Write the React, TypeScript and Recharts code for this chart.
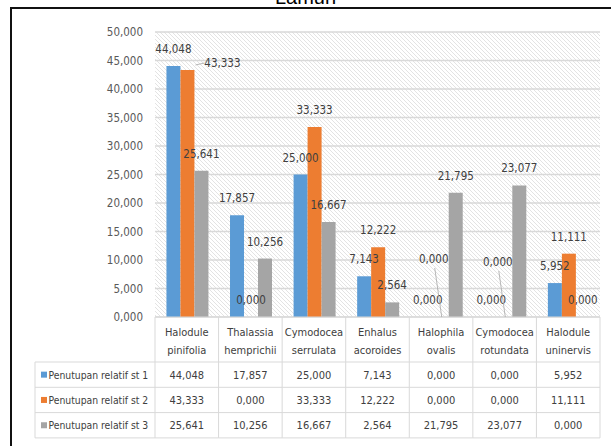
import React from 'react';
import { BarChart, Bar, XAxis, YAxis, CartesianGrid, LabelList } from 'recharts';

const categories = [
  'Halodule pinifolia',
  'Thalassia hemprichii',
  'Cymodocea serrulata',
  'Enhalus acoroides',
  'Halophila ovalis',
  'Cymodocea rotundata',
  'Halodule uninervis',
];
const seriesNames = ['Penutupan relatif st 1', 'Penutupan relatif st 2', 'Penutupan relatif st 3'];
const st1 = [44.048, 17.857, 25.0, 7.143, 0.0, 0.0, 5.952];
const st2 = [43.333, 0.0, 33.333, 12.222, 0.0, 0.0, 11.111];
const st3 = [25.641, 10.256, 16.667, 2.564, 21.795, 23.077, 0.0];
const yTicks = [0, 5, 10, 15, 20, 25, 30, 35, 40, 45, 50];
const colors = ['#5B9BD5', '#ED7D31', '#A5A5A5'];

const W = 611;
const H = 446;
const PLOT_LEFT = 155;
const PLOT_RIGHT = 600;
const PLOT_BOTTOM = 317;
const TABLE_TOP = 362;
const ROW_H = 25.3;
const LEGEND_LEFT = 35;
const FONT = "'DejaVu Sans Condensed', 'DejaVu Sans', sans-serif";
const TEXT = '#404040';
const LINE = '#d9d9d9';

const series = [st1, st2, st3];
const data = categories.map((name, i) => ({ name, s1: st1[i], s2: st2[i], s3: st3[i] }));

const fmt = (v: number) => v.toFixed(3).replace('.', ',');

// manually moved labels (series-index) -> [dx, dy]
const labelShift: Record<string, [number, number]> = {
  '1-0': [35, 10],
  '1-4': [-8, -41],
  '1-5': [-7.5, -38],
};

const makeLabel = (s: number) => (props: any) => {
  const { x, y, width, value, index } = props;
  const cx = x + width / 2;
  const cy = y - 17;
  const shift = labelShift[`${s}-${index}`];
  const lx = cx + (shift ? shift[0] : 0);
  const ly = cy + (shift ? shift[1] : 0);
  return (
    <g>
      {shift && s === 1 && index === 0 && (
        <line x1={lx - 18} y1={ly} x2={x + width + 1} y2={y - 5} stroke="#a6a6a6" strokeWidth={0.8} />
      )}
      {shift && index > 0 && (
        <line x1={lx + 1} y1={ly + 9} x2={cx} y2={y} stroke="#a6a6a6" strokeWidth={0.8} />
      )}
      <text x={lx} y={ly + 4} textAnchor="middle" fontSize={11.5} fontFamily={FONT} fill={TEXT}>
        {fmt(Number(value))}
      </text>
    </g>
  );
};

const TableTick = (props: any) => {
  const { x, payload, index } = props;
  const band = (PLOT_RIGHT - PLOT_LEFT) / categories.length;
  const left = x - band / 2;
  const right = x + band / 2;
  const bottom = TABLE_TOP + ROW_H * 3;
  const words = String(payload.value).split(' ');
  const rows = [0, 1, 2, 3].map((r) => TABLE_TOP + r * ROW_H);
  return (
    <g>
      <line x1={left} y1={PLOT_BOTTOM} x2={left} y2={bottom} stroke={LINE} />
      {index === categories.length - 1 && (
        <line x1={right} y1={PLOT_BOTTOM} x2={right} y2={bottom} stroke={LINE} />
      )}
      {rows.map((ry) => (
        <line key={ry} x1={left} y1={ry} x2={right} y2={ry} stroke={LINE} />
      ))}
      {words.map((w, k) => (
        <text key={k} x={x} y={336 + k * 18} textAnchor="middle" fontSize={11} fontFamily={FONT} fill={TEXT}>
          {w}
        </text>
      ))}
      {series.map((vals, r) => (
        <text key={r} x={x} y={TABLE_TOP + r * ROW_H + ROW_H / 2 + 4} textAnchor="middle" fontSize={11} fontFamily={FONT} fill={TEXT}>
          {fmt(vals[index])}
        </text>
      ))}
      {index === 0 && (
        <g>
          <line x1={LEGEND_LEFT} y1={TABLE_TOP} x2={LEGEND_LEFT} y2={bottom} stroke={LINE} />
          {rows.map((ry) => (
            <line key={ry} x1={LEGEND_LEFT} y1={ry} x2={left} y2={ry} stroke={LINE} />
          ))}
          {seriesNames.map((n, r) => {
            const cy = TABLE_TOP + r * ROW_H + ROW_H / 2;
            return (
              <g key={n}>
                <rect x={41} y={cy - 3} width={6} height={6} fill={colors[r]} />
                <text x={48.5} y={cy + 4} fontSize={10.3} fontFamily={FONT} fill={TEXT}>
                  {n}
                </text>
              </g>
            );
          })}
        </g>
      )}
    </g>
  );
};

export default function App() {
  return (
    <div style={{ position: 'absolute', left: 0, top: 0, width: W, height: H, overflow: 'hidden', background: '#fff' }}>
      <div
        style={{
          position: 'absolute',
          left: 0,
          width: 611,
          top: -13,
          textAlign: 'center',
          fontFamily: "'Liberation Sans', sans-serif",
          fontSize: 20,
          lineHeight: '20px',
          color: '#000',
        }}
      >
        Lamun
      </div>
      <div
        style={{
          position: 'absolute',
          left: 10,
          top: 7,
          width: 700,
          height: 600,
          border: '2.5px solid #111',
          background: '#fff',
        }}
      />
      <div style={{ position: 'absolute', left: 0, top: 0 }}>
        <BarChart
          width={W}
          height={H}
          data={data}
          margin={{ top: 32, right: W - PLOT_RIGHT, bottom: 0, left: 0 }}
          barCategoryGap="18%"
          barGap={0}
        >
          <defs>
            <pattern id="hatch" width="4" height="4" patternUnits="userSpaceOnUse">
              <rect width="4" height="4" fill="#ffffff" />
              <path d="M0,0 L4,4 M-1,3 L1,5 M3,-1 L5,1" stroke="#dcdcdc" strokeWidth={0.8} />
            </pattern>
          </defs>
          <CartesianGrid vertical={false} stroke={LINE} strokeWidth={1.3} fill="url(#hatch)" fillOpacity={1} />
          <XAxis
            dataKey="name"
            interval={0}
            height={H - PLOT_BOTTOM}
            axisLine={{ stroke: LINE }}
            tickLine={false}
            tick={(p: any) => <TableTick {...p} />}
          />
          <YAxis
            width={PLOT_LEFT}
            domain={[0, 50]}
            ticks={yTicks}
            interval={0}
            axisLine={false}
            tickLine={false}
            tickMargin={6}
            tickFormatter={fmt}
            tick={{ fontSize: 11.5, fontFamily: FONT, fill: '#595959' }}
          />
          {['s1', 's2', 's3'].map((k, s) => (
            <Bar key={k} dataKey={k} name={seriesNames[s]} fill={colors[s]} minPointSize={0.01} isAnimationActive={false}>
              <LabelList dataKey={k} content={makeLabel(s)} />
            </Bar>
          ))}
        </BarChart>
      </div>
    </div>
  );
}
